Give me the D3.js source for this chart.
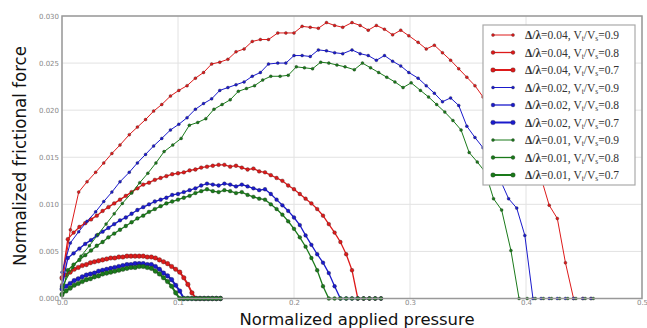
<!DOCTYPE html>
<html>
<head>
<meta charset="utf-8">
<script src="https://cdn.jsdelivr.net/npm/d3@7"></script>
<style>
    body { margin: 0; background: #fff; }
    svg { display: block; }
</style>
</head>
<body>
<svg id="chart" width="647" height="328"></svg>
<script>
// values
const xBig = [0, 0.0072, 0.0144, 0.0216, 0.029, 0.036, 0.043, 0.050, 0.058, 0.065,
    0.072, 0.079, 0.086, 0.0935, 0.1007, 0.1078, 0.115, 0.122, 0.129, 0.136,
    0.143, 0.150, 0.157, 0.164, 0.171, 0.178, 0.186, 0.193, 0.200, 0.207,
    0.214, 0.221, 0.228, 0.235, 0.242, 0.250, 0.257, 0.264, 0.271, 0.278,
    0.285, 0.292, 0.299, 0.307, 0.314, 0.321, 0.328, 0.335, 0.342, 0.349,
    0.356, 0.363, 0.370, 0.377, 0.385, 0.392, 0.399, 0.406, 0.413, 0.420,
    0.427, 0.434, 0.441, 0.449, 0.456];
const xBigGreen = [0, 0.0092, 0.0164, 0.0236, 0.031, 0.038, 0.045, 0.052, 0.060, 0.067,
    0.074, 0.081, 0.088, 0.0955, 0.1027, 0.1098, 0.117, 0.124, 0.131, 0.138,
    0.145, 0.152, 0.159, 0.166, 0.173, 0.180, 0.188, 0.195, 0.202, 0.209,
    0.216, 0.223, 0.230, 0.237, 0.244, 0.252, 0.259, 0.266, 0.273, 0.280,
    0.287, 0.294, 0.301, 0.309, 0.316, 0.323, 0.330, 0.337, 0.344, 0.351,
    0.358, 0.365, 0.372, 0.379, 0.387, 0.394, 0.401, 0.408, 0.415, 0.422,
    0.429, 0.436, 0.443, 0.451, 0.458];
const xMid = [0, 0.005, 0.010, 0.015, 0.020, 0.025, 0.030, 0.035, 0.040, 0.045,
    0.050, 0.055, 0.060, 0.065, 0.070, 0.075, 0.080, 0.085, 0.090, 0.095,
    0.100, 0.105, 0.110, 0.115, 0.120, 0.125, 0.130, 0.135, 0.140, 0.145,
    0.150, 0.155, 0.160, 0.165, 0.170, 0.175, 0.180, 0.185, 0.190, 0.195,
    0.200, 0.205, 0.210, 0.215, 0.220, 0.225, 0.230, 0.235, 0.240, 0.245,
    0.250, 0.255, 0.260, 0.265, 0.270, 0.275];
const xSmall = [0, 0.0035, 0.007, 0.0105, 0.014, 0.0175, 0.021, 0.0245, 0.028, 0.0315,
    0.035, 0.0385, 0.042, 0.0455, 0.049, 0.0525, 0.056, 0.0595, 0.063, 0.0665,
    0.070, 0.0735, 0.077, 0.0805, 0.084, 0.0875, 0.091, 0.0945, 0.098, 0.1015,
    0.105, 0.1085, 0.112, 0.1155, 0.119, 0.1225, 0.126, 0.1295, 0.133, 0.1365];

const red09 = [0.0015, 0.0073, 0.0113, 0.0124, 0.0134, 0.0144, 0.0154, 0.0163, 0.0174, 0.0182,
    0.0190, 0.0199, 0.0206, 0.0215, 0.0221, 0.0226, 0.0234, 0.0240, 0.0249, 0.0251,
    0.0254, 0.0262, 0.0265, 0.0273, 0.0275, 0.0275, 0.0282, 0.0282, 0.0282, 0.0289,
    0.0288, 0.0287, 0.0293, 0.0290, 0.0288, 0.0293, 0.0290, 0.0285, 0.0290, 0.0286,
    0.0280, 0.0285, 0.0279, 0.0272, 0.0265, 0.0269, 0.0261, 0.0253, 0.0244, 0.0235,
    0.0226, 0.0214, 0.0204, 0.0193, 0.0181, 0.0168, 0.0155, 0.0142, 0.0128, 0.0099,
    0.0085, 0.0038, 0, 0, 0];
const blue09 = [0.0028, 0.0059, 0.0071, 0.0082, 0.0092, 0.0103, 0.0113, 0.0124, 0.0134, 0.0144,
    0.0153, 0.0162, 0.0170, 0.0179, 0.0185, 0.0192, 0.0201, 0.0207, 0.0212, 0.0221,
    0.0224, 0.0227, 0.0230, 0.0236, 0.0240, 0.0249, 0.0250, 0.0250, 0.0258, 0.0258,
    0.0257, 0.0264, 0.0263, 0.0261, 0.0260, 0.0264, 0.0260, 0.0258, 0.0253, 0.0258,
    0.0252, 0.0247, 0.0240, 0.0234, 0.0226, 0.0218, 0.0209, 0.0213, 0.0205, 0.0183,
    0.0171, 0.0160, 0.0146, 0.0128, 0.0106, 0.0096, 0.0067, 0, 0, 0,
    0, 0, 0, 0, 0];
const green09 = [0.0012, 0.0033, 0.0045, 0.0056, 0.0068, 0.0079, 0.0090, 0.0101, 0.0112, 0.0123,
    0.0133, 0.0144, 0.0156, 0.0163, 0.0170, 0.0184, 0.0187, 0.0191, 0.0201, 0.0206,
    0.0211, 0.0220, 0.0223, 0.0226, 0.0232, 0.0236, 0.0236, 0.0237, 0.0246, 0.0245,
    0.0244, 0.0251, 0.0250, 0.0248, 0.0246, 0.0243, 0.0250, 0.0245, 0.0240, 0.0235,
    0.0230, 0.0224, 0.0229, 0.0221, 0.0214, 0.0206, 0.0198, 0.0189, 0.0179, 0.0155,
    0.0145, 0.0134, 0.0106, 0.0094, 0.0051, 0, 0, 0, 0, 0,
    0, 0, 0, 0, 0];

const red08 = [0.0021, 0.0063, 0.0070, 0.0076, 0.0080, 0.0084, 0.0088, 0.0093, 0.0097, 0.0101,
    0.0105, 0.0109, 0.0113, 0.0117, 0.0121, 0.0123, 0.0126, 0.0128, 0.0130, 0.0132,
    0.0133, 0.0134, 0.0136, 0.0137, 0.0139, 0.0140, 0.0141, 0.0142, 0.0142, 0.0140,
    0.0141, 0.0139, 0.0137, 0.0138, 0.0135, 0.0134, 0.0131, 0.0128, 0.0125, 0.0120,
    0.0116, 0.0111, 0.0106, 0.0101, 0.0095, 0.0088, 0.0079, 0.0070, 0.0060, 0.0047,
    0.0030, 0, 0, 0, 0, 0];
const blue08 = [0.0013, 0.0043, 0.0048, 0.0053, 0.0058, 0.0062, 0.0067, 0.0071, 0.0075, 0.0079,
    0.0083, 0.0086, 0.0090, 0.0094, 0.0097, 0.0100, 0.0103, 0.0105, 0.0107, 0.0110,
    0.0111, 0.0113, 0.0115, 0.0117, 0.0120, 0.0122, 0.0121, 0.0120, 0.0122, 0.0121,
    0.0119, 0.0121, 0.0119, 0.0117, 0.0115, 0.0116, 0.0111, 0.0105, 0.0099, 0.0093,
    0.0086, 0.0078, 0.0067, 0.0057, 0.0047, 0.0038, 0.0027, 0.0013, 0, 0,
    0, 0, 0, 0, 0, 0];
const green08 = [0.0005, 0.0030, 0.0036, 0.0041, 0.0046, 0.0051, 0.0056, 0.0060, 0.0065, 0.0069,
    0.0073, 0.0077, 0.0081, 0.0085, 0.0088, 0.0092, 0.0095, 0.0098, 0.0101, 0.0103,
    0.0105, 0.0107, 0.0109, 0.0112, 0.0114, 0.0116, 0.0114, 0.0113, 0.0115, 0.0114,
    0.0112, 0.0113, 0.0110, 0.0108, 0.0106, 0.0105, 0.0100, 0.0095, 0.0089, 0.0082,
    0.0074, 0.0065, 0.0055, 0.0043, 0.0030, 0.0013, 0, 0, 0, 0,
    0, 0, 0, 0, 0, 0];

const red07 = [0.0022, 0.0025, 0.0028, 0.0031, 0.0033, 0.0035, 0.0036, 0.0038, 0.0039, 0.0040,
    0.0041, 0.0042, 0.0043, 0.0043, 0.0044, 0.0044, 0.0045, 0.0045, 0.0045, 0.0045,
    0.0045, 0.0044, 0.0044, 0.0043, 0.0041, 0.0039, 0.0037, 0.0034, 0.0031, 0.0028,
    0.0022, 0.0015, 0.0006, 0, 0, 0, 0, 0, 0, 0];
const blue07 = [0.0010, 0.0013, 0.0016, 0.0019, 0.0021, 0.0023, 0.0025, 0.0026, 0.0027, 0.0029,
    0.0030, 0.0031, 0.0032, 0.0033, 0.0034, 0.0035, 0.0036, 0.0036, 0.0037, 0.0037,
    0.0037, 0.0036, 0.0036, 0.0034, 0.0031, 0.0027, 0.0024, 0.0020, 0.0014, 0.0008,
    0, 0, 0, 0, 0, 0, 0, 0, 0, 0];
const green07 = [0.0004, 0.0008, 0.0011, 0.0014, 0.0016, 0.0018, 0.0020, 0.0021, 0.0023, 0.0024,
    0.0026, 0.0027, 0.0028, 0.0029, 0.0030, 0.0031, 0.0032, 0.0033, 0.0033, 0.0034,
    0.0034, 0.0033, 0.0032, 0.0029, 0.0026, 0.0022, 0.0018, 0.0013, 0.0006, 0,
    0, 0, 0, 0, 0, 0, 0, 0, 0, 0];

const xTicks = [0, 0.1, 0.2, 0.3, 0.4, 0.5];
const yTicks = [0, 0.005, 0.010, 0.015, 0.020, 0.025, 0.030];

const colors = {"0.04": "#dd1a1a", "0.02": "#1a1acc", "0.01": "#1a7a1a"};
const looks = {
    "0.9": {lw: 1, r: 1.5},
    "0.8": {lw: 1.3, r: 1.9},
    "0.7": {lw: 2, r: 2.3}
};

// legend order, which is also drawing order
const series = [
    {ratio: "0.04", speed: "0.9", x: xBig, y: red09},
    {ratio: "0.04", speed: "0.8", x: xMid, y: red08},
    {ratio: "0.04", speed: "0.7", x: xSmall, y: red07},
    {ratio: "0.02", speed: "0.9", x: xBig, y: blue09},
    {ratio: "0.02", speed: "0.8", x: xMid, y: blue08},
    {ratio: "0.02", speed: "0.7", x: xSmall, y: blue07},
    {ratio: "0.01", speed: "0.9", x: xBigGreen, y: green09},
    {ratio: "0.01", speed: "0.8", x: xMid, y: green08},
    {ratio: "0.01", speed: "0.7", x: xSmall, y: green07}
];

const svg = d3.select("#chart");
const mLeft = 62, mRight = 642, mTop = 16, mBottom = 298.5;

const scaleX = d3.scaleLinear().domain([0, 0.5]).range([mLeft, mRight]);
const scaleY = d3.scaleLinear().domain([0, 0.03]).range([mBottom, mTop]);

// grid
svg.append("g")
    .selectAll("line")
    .data(xTicks)
    .join("line")
    .attr("x1", d => scaleX(d)).attr("x2", d => scaleX(d))
    .attr("y1", mTop).attr("y2", mBottom)
    .attr("stroke", "#e2e2e2").attr("stroke-width", 1);

svg.append("g")
    .selectAll("line")
    .data(yTicks)
    .join("line")
    .attr("x1", mLeft).attr("x2", mRight)
    .attr("y1", d => scaleY(d)).attr("y2", d => scaleY(d))
    .attr("stroke", "#e2e2e2").attr("stroke-width", 1);

// axes (tiny gray tick labels)
const axisX = d3.axisBottom(scaleX).tickValues(xTicks).tickFormat(d3.format(".1f")).tickSize(0).tickPadding(2);
const axisY = d3.axisLeft(scaleY).tickValues(yTicks).tickFormat(d3.format(".3f")).tickSize(0).tickPadding(3);

const gx = svg.append("g").attr("transform", `translate(0, ${mBottom})`).call(axisX);
const gy = svg.append("g").attr("transform", `translate(${mLeft}, 0)`).call(axisY);
[gx, gy].forEach(g => {
    g.select(".domain").remove();
    g.selectAll("text")
        .attr("font-family", "DejaVu Sans")
        .attr("font-size", 7)
        .attr("fill", "#888");
});

// curves
const line = d3.line().x(d => scaleX(d[0])).y(d => scaleY(d[1]));

series.forEach(s => {
    const pts = s.x.map((v, i) => [v, s.y[i]]);
    const look = looks[s.speed];
    svg.append("path")
        .datum(pts)
        .attr("d", line)
        .attr("fill", "none")
        .attr("stroke", colors[s.ratio])
        .attr("stroke-width", look.lw);
    svg.append("g")
        .selectAll("circle")
        .data(pts)
        .join("circle")
        .attr("cx", d => scaleX(d[0]))
        .attr("cy", d => scaleY(d[1]))
        .attr("r", look.r)
        .attr("fill", colors[s.ratio])
        .attr("stroke", "#222")
        .attr("stroke-width", 0.3);
});

// frame
svg.append("rect")
    .attr("x", mLeft).attr("y", mTop)
    .attr("width", mRight - mLeft).attr("height", mBottom - mTop)
    .attr("fill", "none").attr("stroke", "#999").attr("stroke-width", 1.5);

// legend
const legend = svg.append("g").attr("transform", "translate(483, 25)");
legend.append("rect")
    .attr("width", 152).attr("height", 160)
    .attr("fill", "#fff").attr("stroke", "#aaa").attr("stroke-width", 1.2);

series.forEach((s, i) => {
    const yy = 10 + i * 17.5;
    const look = looks[s.speed];
    legend.append("line")
        .attr("x1", 10).attr("x2", 30).attr("y1", yy).attr("y2", yy)
        .attr("stroke", colors[s.ratio]).attr("stroke-width", look.lw);
    legend.append("g")
        .selectAll("circle")
        .data([10, 30])
        .join("circle")
        .attr("cx", d => d).attr("cy", yy).attr("r", look.r)
        .attr("fill", colors[s.ratio]).attr("stroke", "#222").attr("stroke-width", 0.3);
    const t = legend.append("text")
        .attr("x", 42).attr("y", yy + 4)
        .attr("font-family", "Liberation Serif")
        .attr("font-size", 11.5)
        .attr("fill", "#333");
    t.append("tspan").attr("font-weight", "bold").text("Δ/λ");
    t.append("tspan").text(`=${s.ratio}, V`);
    t.append("tspan").attr("font-size", 7.5).attr("dy", 2).text("t");
    t.append("tspan").attr("dy", -2).text("/V");
    t.append("tspan").attr("font-size", 7.5).attr("dy", 2).text("s");
    t.append("tspan").attr("dy", -2).text(`=${s.speed}`);
});

// axis titles
svg.append("text")
    .attr("x", 357).attr("y", 324.5)
    .attr("text-anchor", "middle")
    .attr("font-family", "DejaVu Sans")
    .attr("font-size", 16)
    .attr("textLength", 235)
    .attr("lengthAdjust", "spacingAndGlyphs")
    .attr("fill", "#111")
    .text("Normalized applied pressure");

svg.append("text")
    .attr("transform", "translate(26, 156) rotate(-90)")
    .attr("text-anchor", "middle")
    .attr("font-family", "DejaVu Sans")
    .attr("font-size", 17)
    .attr("textLength", 220)
    .attr("lengthAdjust", "spacingAndGlyphs")
    .attr("fill", "#111")
    .text("Normalized frictional force");
</script>
</body>
</html>
